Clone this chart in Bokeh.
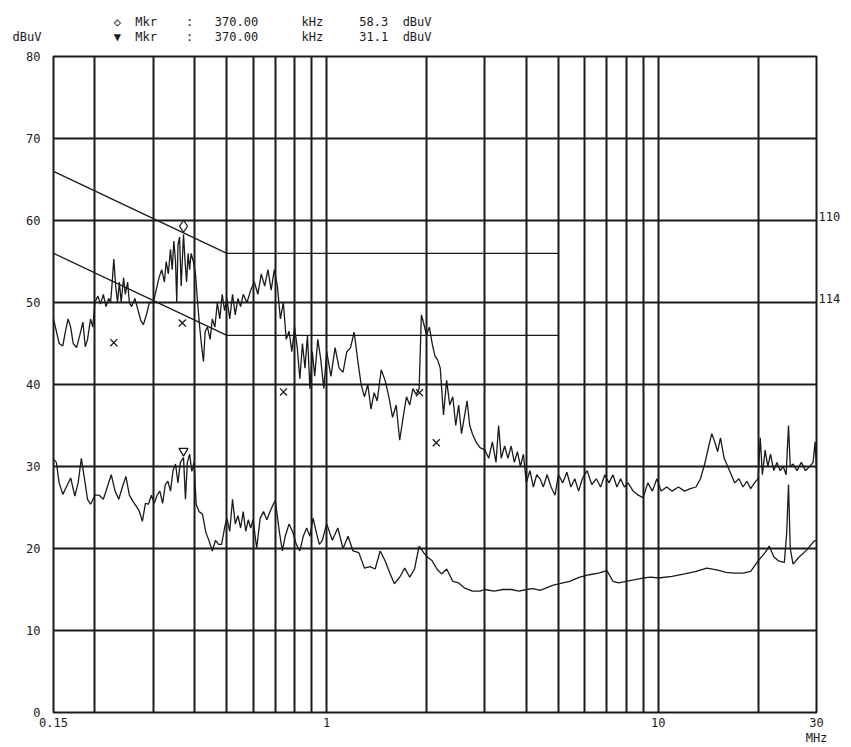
from bokeh.plotting import figure
from bokeh.models import (Range1d, FixedTicker, LinearAxis,
                          CustomJSTickFormatter)
from bokeh.embed import file_html
from bokeh.resources import INLINE

# ---------------- data ----------------
grid_freqs = [0.2, 0.3, 0.4, 0.5, 0.6, 0.7, 0.8, 0.9, 1, 2, 3, 4, 5, 6, 7, 8, 9, 10, 20]
grid_levels = [10, 20, 30, 40, 50, 60, 70]
x_tick_vals = [0.15, 1, 10, 30]
x_tick_labels = ["0.15", "1", "10", "30\nMHz"]
y_tick_vals = [0, 10, 20, 30, 40, 50, 60, 70, 80]

# limit lines (QP / AV)
qp_lim_f = [0.15, 0.5, 0.5, 5.0]
qp_lim_v = [66, 56, 56, 56]
av_lim_f = [0.15, 0.5, 0.5, 5.0]
av_lim_v = [56, 46, 46, 46]

# peak trace
pk_f = [0.150, 0.153, 0.156, 0.160, 0.163, 0.166, 0.169, 0.172, 0.176, 0.180,
        0.184, 0.187, 0.190, 0.194, 0.197, 0.200, 0.204, 0.208, 0.212, 0.216,
        0.220, 0.223, 0.226, 0.228, 0.231, 0.234, 0.237, 0.240, 0.244, 0.247,
        0.251, 0.254, 0.258, 0.264, 0.270, 0.275, 0.280, 0.286, 0.292, 0.300,
        0.306, 0.312, 0.318, 0.324, 0.328, 0.333, 0.338, 0.342, 0.346, 0.350,
        0.353, 0.356, 0.360, 0.364, 0.370, 0.374, 0.378, 0.382, 0.386, 0.390,
        0.396, 0.402, 0.408, 0.414, 0.420, 0.425, 0.430, 0.437, 0.445, 0.452,
        0.460, 0.468, 0.476, 0.484, 0.492, 0.50, 0.51, 0.52, 0.53, 0.54,
        0.55, 0.56, 0.575, 0.59, 0.605, 0.62, 0.635, 0.65, 0.665, 0.68,
        0.695, 0.71, 0.725, 0.74, 0.755, 0.77, 0.785, 0.80, 0.815, 0.83,
        0.845, 0.86, 0.875, 0.89, 0.905, 0.92, 0.94, 0.96, 0.98, 1.00,
        1.03, 1.06, 1.09, 1.12, 1.15, 1.18, 1.21, 1.24, 1.27, 1.30,
        1.33, 1.36, 1.39, 1.42, 1.46, 1.50, 1.54, 1.58, 1.62, 1.66,
        1.70, 1.74, 1.78, 1.82, 1.86, 1.90, 1.93, 1.96, 2.00, 2.04,
        2.08, 2.12, 2.16, 2.20, 2.25, 2.30, 2.35, 2.40, 2.45, 2.50,
        2.55, 2.60, 2.65, 2.70, 2.75, 2.82, 2.90, 3.00, 3.08, 3.16,
        3.24, 3.30, 3.36, 3.44, 3.52, 3.60, 3.68, 3.76, 3.84, 3.92,
        4.00, 4.10, 4.20, 4.30, 4.40, 4.50, 4.62, 4.75, 4.88, 5.00,
        5.15, 5.30, 5.45, 5.60, 5.75, 5.90, 6.10, 6.30, 6.50, 6.70,
        6.90, 7.10, 7.30, 7.50, 7.70, 7.90, 8.10, 8.40, 8.70, 9.00,
        9.30, 9.60, 9.90, 10.2, 10.6, 11.0, 11.5, 12.0, 12.5, 13.0,
        13.4, 13.8, 14.2, 14.5, 14.8, 15.1, 15.4, 15.8, 16.2, 16.6,
        17.0, 17.5, 18.0, 18.5, 19.0, 19.5, 20.0, 20.3, 20.6, 21.0,
        21.4, 21.8, 22.3, 22.8, 23.3, 23.8, 24.3, 24.7, 25.0, 25.5,
        26.2, 27.0, 27.8, 28.6, 29.3, 29.7, 30.0]
pk_v = [48.0, 46.5, 45.0, 44.7, 46.5, 48.0, 47.0, 45.0, 44.5, 46.0,
        47.6, 44.6, 45.5, 48.0, 47.0, 50.0, 50.8, 49.8, 51.0, 49.5,
        50.5, 50.0, 53.0, 55.3, 52.0, 50.0, 52.5, 50.0, 53.0, 51.0,
        52.5, 50.0, 49.5, 50.5, 49.0, 47.8, 47.3, 48.5, 50.0, 50.0,
        51.5, 53.0, 54.0, 52.5, 55.0, 53.5, 56.5, 54.0, 57.5, 55.0,
        50.0, 57.0, 58.0, 52.0, 58.3, 55.0, 52.5, 56.0, 54.0, 56.0,
        55.0, 53.5, 50.0, 47.0, 44.5, 42.8, 46.5, 47.0, 45.5, 48.0,
        47.0, 50.0, 48.0, 51.0, 49.0, 50.5, 48.0, 51.0, 48.5, 50.5,
        49.5, 51.0, 50.0, 51.5, 52.5, 51.0, 53.5, 52.0, 54.0, 51.5,
        54.0, 52.0, 48.0, 50.0, 45.5, 46.5, 44.0, 47.0, 44.5, 40.7,
        45.0, 42.0, 46.0, 39.5, 44.0, 41.0, 45.5, 43.0, 39.5, 44.0,
        41.0, 44.5, 42.0, 41.5, 44.0, 44.5, 46.4, 43.0, 40.0, 38.5,
        40.0, 37.0, 39.0, 38.0, 41.8, 40.5, 38.5, 36.0, 37.5, 33.2,
        36.0, 38.5, 37.5, 39.5, 38.8, 39.5, 48.5, 47.5, 46.0, 47.0,
        45.0, 43.5, 43.0, 42.0, 36.3, 40.5, 37.5, 38.5, 35.0, 37.5,
        34.0, 36.0, 38.0, 35.0, 34.0, 33.0, 32.3, 32.0, 31.0, 33.0,
        30.5, 35.0, 31.0, 32.5, 31.0, 32.5, 30.5, 31.8, 30.0, 31.5,
        28.0, 29.5, 27.5, 29.0, 28.5, 27.5, 29.0, 27.5, 26.5, 29.0,
        28.0, 29.3, 27.5, 28.5, 27.0, 28.5, 29.5, 27.8, 28.5, 27.5,
        29.0, 28.0, 29.0, 27.5, 28.5, 27.5, 28.0, 27.0, 26.5, 26.2,
        28.0, 27.0, 28.5, 27.0, 27.5, 27.0, 27.5, 27.0, 27.3, 27.5,
        28.5, 30.3, 32.5, 34.0, 33.0, 31.8, 33.5, 31.0, 30.0, 29.0,
        28.0, 28.5, 27.5, 28.2, 27.3, 28.0, 28.5, 33.5, 29.0, 32.0,
        30.0, 31.5, 29.5, 30.5, 29.5, 30.0, 29.0, 35.0, 30.0, 30.3,
        29.5, 30.5, 29.5, 30.0, 30.5, 33.0, 29.5]

# average trace
av_f = [0.150, 0.153, 0.156, 0.160, 0.164, 0.169, 0.174, 0.178, 0.182, 0.186,
        0.190, 0.194, 0.200, 0.206, 0.212, 0.218, 0.224, 0.230, 0.236, 0.242,
        0.248, 0.254, 0.260, 0.266, 0.272, 0.278, 0.284, 0.290, 0.296, 0.302,
        0.308, 0.314, 0.320, 0.326, 0.332, 0.338, 0.344, 0.350, 0.356, 0.362,
        0.370, 0.375, 0.380, 0.386, 0.392, 0.398, 0.404, 0.412, 0.422, 0.432,
        0.442, 0.452, 0.462, 0.472, 0.482, 0.492, 0.50, 0.51, 0.52, 0.53,
        0.54, 0.55, 0.56, 0.57, 0.58, 0.59, 0.60, 0.615, 0.63, 0.645,
        0.66, 0.675, 0.69, 0.70, 0.72, 0.735, 0.75, 0.77, 0.79, 0.81,
        0.83, 0.85, 0.87, 0.89, 0.91, 0.93, 0.95, 0.97, 1.00, 1.04,
        1.08, 1.12, 1.16, 1.20, 1.25, 1.30, 1.35, 1.40, 1.45, 1.50,
        1.55, 1.60, 1.66, 1.72, 1.78, 1.84, 1.90, 1.96, 2.02, 2.08,
        2.15, 2.22, 2.30, 2.40, 2.50, 2.60, 2.75, 2.90, 3.00, 3.20,
        3.40, 3.60, 3.80, 4.00, 4.20, 4.40, 4.60, 4.80, 5.00, 5.40,
        5.80, 6.20, 6.60, 7.00, 7.30, 7.60, 8.00, 8.50, 9.00, 9.50,
        10.0, 11.0, 12.0, 13.0, 14.0, 15.0, 16.0, 17.0, 18.0, 19.0,
        20.0, 21.0, 21.6, 22.3, 23.0, 24.0, 24.4, 24.7, 25.0, 25.5,
        26.5, 28.0, 29.5, 30.0]
av_v = [30.9, 30.5, 28.0, 26.6, 27.5, 28.6, 26.4, 28.0, 31.0, 28.5,
        26.0, 25.4, 26.5, 26.5, 26.0, 27.5, 29.0, 27.0, 26.0, 27.5,
        28.8, 26.5, 25.8, 25.2, 24.6, 23.3, 25.5, 25.4, 26.5, 25.5,
        26.5, 27.0, 25.5, 27.8, 28.2, 27.0, 29.5, 30.3, 28.0, 30.5,
        31.1, 26.0, 30.5, 31.5, 29.4, 30.5, 25.4, 24.5, 24.2, 22.0,
        20.9, 19.7, 21.0, 20.5, 20.5, 22.5, 23.7, 22.1, 26.0, 23.0,
        24.0, 22.5, 24.5, 22.1, 23.5, 22.5, 23.5, 20.0, 23.7, 24.5,
        23.5, 24.5, 25.4, 25.8, 22.0, 19.7, 21.5, 23.0, 22.0, 20.5,
        19.7, 21.5, 22.5, 21.5, 23.7, 22.0, 20.5, 21.0, 23.0, 21.0,
        22.5, 20.0, 21.5, 19.7, 19.5, 17.6, 17.8, 17.5, 19.7, 18.5,
        17.0, 15.7, 16.5, 17.6, 16.5, 17.5, 20.3, 19.5, 18.9, 18.5,
        17.5, 16.9, 17.5, 16.0, 15.8, 15.2, 14.8, 14.8, 15.0, 14.8,
        15.0, 15.0, 14.8, 15.0, 15.1, 14.9, 15.2, 15.5, 15.7, 16.0,
        16.5, 16.8, 17.0, 17.3, 16.0, 15.8, 16.0, 16.2, 16.4, 16.5,
        16.4, 16.6, 16.9, 17.2, 17.6, 17.4, 17.1, 17.0, 17.0, 17.2,
        18.5, 19.5, 20.3, 19.0, 18.5, 18.3, 22.0, 27.8, 20.0, 18.1,
        18.9, 19.8, 20.9, 21.0]

# final (QP) measured points
qp_pts_f = [0.228, 0.367, 0.741, 1.905, 2.14]
qp_pts_v = [45.1, 47.5, 39.1, 39.0, 32.9]

# markers
mkr_f = 0.37
mkr_pk = 58.3
mkr_av = 31.1
y_unit_label = "dBuV"
mkr_rows = [["", "\u25c7", "Mkr", ":", "370.00", "kHz", "58.3", "dBuV"],
            [y_unit_label, "\u25bc", "Mkr", ":", "370.00", "kHz", "31.1", "dBuV"]]
hdr_col_chars = [0, 14, 17, 24, 28, 40, 48, 54]
right_labels = ["114", "110"]
right_label_levels = [50.5, 60.5]

# ---------------- figure ----------------
FONT = "DejaVu Sans Mono"
FS = "12px"
INK = "#1a1a1a"
NBSP = "\u00a0"


def build_row(cells):
    s = ""
    for cell, start in zip(cells, hdr_col_chars):
        s = s.ljust(start, NBSP) + cell
    return s


p = figure(width=851, height=747, x_axis_type="log",
           x_range=Range1d(0.15, 30), y_range=Range1d(0, 80),
           output_backend="svg", toolbar_location=None,
           min_border_left=53, min_border_right=35,
           min_border_top=54, min_border_bottom=35)
p.background_fill_color = "white"
p.border_fill_color = "white"
p.outline_line_color = INK
p.outline_line_width = 2

# header: both marker read-out rows (with the y unit) as a two-line title
p.title.text = "\n".join(build_row(r) for r in mkr_rows)
p.title.align = "left"
p.title.offset = -41
p.title.standoff = 25
p.title.text_font = FONT
p.title.text_font_size = FS
p.title.text_font_style = "normal"
p.title.text_line_height = 1.1
p.title.text_color = INK

p.xgrid.ticker = FixedTicker(ticks=grid_freqs)
p.ygrid.ticker = FixedTicker(ticks=grid_levels)
for g in (p.xgrid, p.ygrid):
    g.grid_line_color = INK
    g.grid_line_width = 2
    g.grid_line_alpha = 1.0


def style_axis(ax, standoff):
    ax.axis_line_color = None
    ax.major_tick_line_color = None
    ax.minor_tick_line_color = None
    ax.major_tick_out = 0
    ax.major_tick_in = 0
    ax.minor_tick_out = 0
    ax.minor_tick_in = 0
    ax.major_label_text_font = FONT
    ax.major_label_text_font_size = FS
    ax.major_label_text_color = INK
    ax.major_label_text_line_height = 1.1
    ax.major_label_standoff = standoff


p.xaxis.ticker = FixedTicker(ticks=x_tick_vals)
p.xaxis.formatter = CustomJSTickFormatter(args=dict(labs=x_tick_labels),
                                          code="return labs[index]")
p.yaxis.ticker = FixedTicker(ticks=y_tick_vals)
style_axis(p.xaxis[0], 3)
style_axis(p.yaxis[0], 13)

# right side labels
rax = LinearAxis(ticker=FixedTicker(ticks=right_label_levels),
                 formatter=CustomJSTickFormatter(args=dict(labs=right_labels),
                                                 code="return labs[index]"))
style_axis(rax, 2)
p.add_layout(rax, "right")

# limit lines
p.line(qp_lim_f, qp_lim_v, line_color=INK, line_width=1.3)
p.line(av_lim_f, av_lim_v, line_color=INK, line_width=1.3)

# traces
p.line(pk_f, pk_v, line_color=INK, line_width=1.3)
p.line(av_f, av_v, line_color=INK, line_width=1.3)

# QP points
p.scatter(qp_pts_f, qp_pts_v, marker="x", size=10, line_color=INK, line_width=1.3)

# markers
p.scatter([mkr_f], [mkr_pk + 1.0], marker="diamond", size=12,
          fill_color="white", line_color=INK, line_width=1.3)
p.scatter([mkr_f], [mkr_av + 0.8], marker="inverted_triangle", size=9,
          fill_color="white", line_color=INK, line_width=1.3)

open("out.html", "w").write(file_html(p, INLINE))
